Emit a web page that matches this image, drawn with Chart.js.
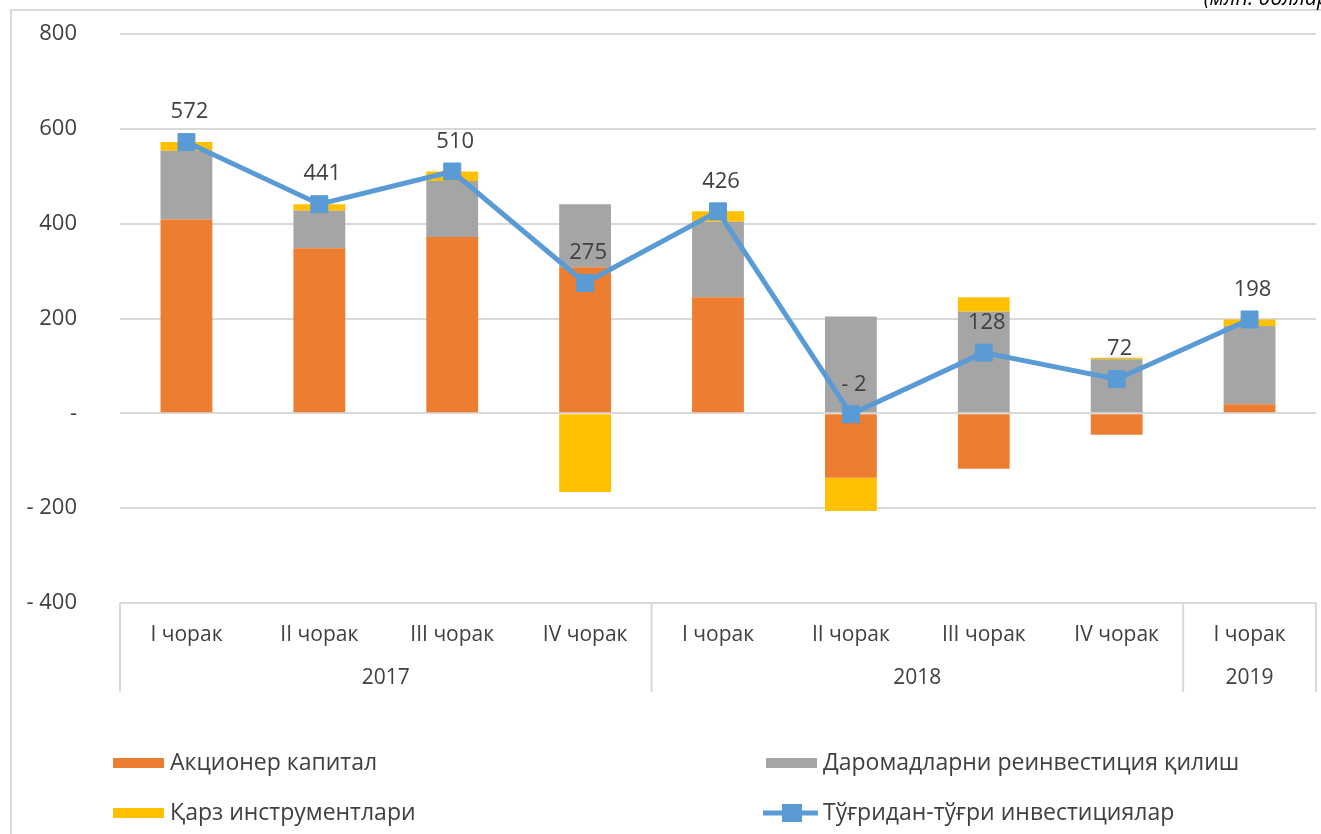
<!DOCTYPE html>
<html>
<head>
<meta charset="utf-8">
<script src="https://cdn.jsdelivr.net/npm/chart.js@4.4.1/dist/chart.umd.min.js"></script>
<style>
  html, body { margin: 0; padding: 0; background: #fff; }
  #wrap { width: 1321px; height: 834px; position: relative; overflow: hidden; }
</style>
</head>
<body>
<div id="wrap"><canvas id="fdiChart" width="1321" height="834"></canvas></div>
<script>
// quarters and years
const quarters = ["I чорак", "II чорак", "III чорак", "IV чорак", "I чорак", "II чорак", "III чорак", "IV чорак", "I чорак"];
const years = ["2017", "2018", "2019"];
const yearSpans = [4, 4, 1];

// series, mln. USD
const equity = [409, 348, 372, 308, 245, -136, -117, -45, 19];
const reinvest = [145, 79, 118, 133, 159, 204, 214, 114, 165];
const debt = [18, 14, 20, -166, 22, -70, 31, 3, 14];
const fdi = [572, 441, 510, 275, 426, -2, 128, 72, 198];

const yTicks = [-400, -200, 0, 200, 400, 600, 800];

const FONT = "'Open Sans', 'Liberation Sans', sans-serif";
const TEXT = "#404040";
const GRID = "#d9d9d9";

const fmt = (v) => (v === 0 ? "-" : v < 0 ? "- " + Math.abs(v) : String(v));

// frame + unit caption
const framePlugin = {
  id: "frame",
  beforeDraw(chart) {
    const ctx = chart.ctx;
    ctx.save();
    ctx.fillStyle = "#fff";
    ctx.fillRect(0, 0, chart.width, chart.height);
    ctx.strokeStyle = GRID;
    ctx.lineWidth = 2;
    ctx.beginPath();
    ctx.moveTo(11, chart.height);
    ctx.lineTo(11, 10);
    ctx.lineTo(chart.width, 10);
    ctx.stroke();
    ctx.fillStyle = "#000";
    ctx.font = "italic 21px " + FONT;
    ctx.textAlign = "right";
    ctx.textBaseline = "alphabetic";
    ctx.fillText("(млн. доллар)", 1335, 5);
    ctx.restore();
  },
};

// two-level category table under the plot
const tablePlugin = {
  id: "catTable",
  afterDraw(chart) {
    const ctx = chart.ctx;
    const x = chart.scales.x;
    const area = chart.chartArea;
    const top = area.bottom;
    const bottom = top + 89;
    const half = (x.getPixelForValue(1) - x.getPixelForValue(0)) / 2;
    ctx.save();
    ctx.strokeStyle = GRID;
    ctx.lineWidth = 2;
    const edges = [area.left];
    let idx = 0;
    yearSpans.forEach((n) => {
      idx += n;
      edges.push(idx >= quarters.length ? area.right : x.getPixelForValue(idx) - half);
    });
    ctx.beginPath();
    edges.forEach((ex) => {
      ctx.moveTo(ex, top);
      ctx.lineTo(ex, bottom);
    });
    ctx.stroke();

    ctx.fillStyle = TEXT;
    ctx.font = "21px " + FONT;
    ctx.textAlign = "center";
    ctx.textBaseline = "middle";
    quarters.forEach((q, i) => {
      ctx.fillText(q, x.getPixelForValue(i), top + 32);
    });
    years.forEach((y, i) => {
      ctx.fillText(y, (edges[i] + edges[i + 1]) / 2, top + 75);
    });
    ctx.restore();
  },
};

// value labels above the line points
const labelPlugin = {
  id: "pointLabels",
  afterDatasetsDraw(chart) {
    const ctx = chart.ctx;
    const meta = chart.getDatasetMeta(3);
    ctx.save();
    ctx.fillStyle = TEXT;
    ctx.font = "22px " + FONT;
    ctx.textAlign = "center";
    ctx.textBaseline = "middle";
    meta.data.forEach((pt, i) => {
      ctx.fillText(fmt(fdi[i]), pt.x + 3, pt.y - 30);
    });
    ctx.restore();
  },
};

// legend in two aligned columns
const legendPlugin = {
  id: "gridLegend",
  afterDraw(chart) {
    const ctx = chart.ctx;
    const ds = chart.data.datasets;
    const spots = [
      { i: 0, x: 113, y: 763 },
      { i: 1, x: 766, y: 763 },
      { i: 2, x: 113, y: 813 },
      { i: 3, x: 766, y: 813 },
    ];
    ctx.save();
    ctx.font = "23px " + FONT;
    ctx.textBaseline = "middle";
    ctx.textAlign = "left";
    spots.forEach((s) => {
      const d = ds[s.i];
      if (d.type === "line") {
        ctx.strokeStyle = d.borderColor;
        ctx.lineWidth = 5;
        ctx.beginPath();
        ctx.moveTo(s.x - 3, s.y);
        ctx.lineTo(s.x + 52, s.y);
        ctx.stroke();
        ctx.fillStyle = d.borderColor;
        ctx.fillRect(s.x + 16, s.y - 9, 20, 18);
      } else {
        ctx.fillStyle = d.backgroundColor;
        ctx.fillRect(s.x, s.y - 5, 51, 10);
      }
      ctx.fillStyle = TEXT;
      ctx.fillText(d.label, s.x + 57, s.y);
    });
    ctx.restore();
  },
};

new Chart(document.getElementById("fdiChart"), {
  type: "bar",
  data: {
    labels: quarters,
    datasets: [
      { label: "Акционер капитал", data: equity, backgroundColor: "#ED7D31", stack: "parts", order: 1 },
      { label: "Даромадларни реинвестиция қилиш", data: reinvest, backgroundColor: "#A5A5A5", stack: "parts", order: 1 },
      { label: "Қарз инструментлари", data: debt, backgroundColor: "#FFC000", stack: "parts", order: 1 },
      {
        type: "line",
        label: "Тўғридан-тўғри инвестициялар",
        data: fdi,
        stack: "total",
        order: 0,
        borderColor: "#5B9BD5",
        backgroundColor: "#5B9BD5",
        borderWidth: 5,
        pointStyle: "rect",
        pointRadius: 12,
        pointBorderWidth: 1,
        pointHoverRadius: 12,
        tension: 0,
      },
    ],
  },
  options: {
    responsive: false,
    devicePixelRatio: 1,
    animation: false,
    events: [],
    layout: { autoPadding: false, padding: { left: 0, right: 5, top: 34, bottom: 231 } },
    datasets: { bar: { categoryPercentage: 1, barPercentage: 0.39 } },
    plugins: { legend: { display: false }, tooltip: { enabled: false } },
    scales: {
      x: { stacked: true, display: false },
      y: {
        stacked: true,
        min: yTicks[0],
        max: yTicks[yTicks.length - 1],
        afterFit(scale) {
          scale.width = 120;
          scale.paddingTop = 0;
          scale.paddingBottom = 0;
        },
        afterBuildTicks(scale) { scale.ticks = yTicks.map((v) => ({ value: v })); },
        border: { display: false },
        grid: { color: GRID, lineWidth: 2, drawTicks: false },
        ticks: {
          padding: 43,
          color: TEXT,
          font: { family: FONT, size: 22 },
          callback: (v) => fmt(v),
        },
      },
    },
  },
  plugins: [framePlugin, tablePlugin, labelPlugin, legendPlugin],
});
</script>
</body>
</html>
